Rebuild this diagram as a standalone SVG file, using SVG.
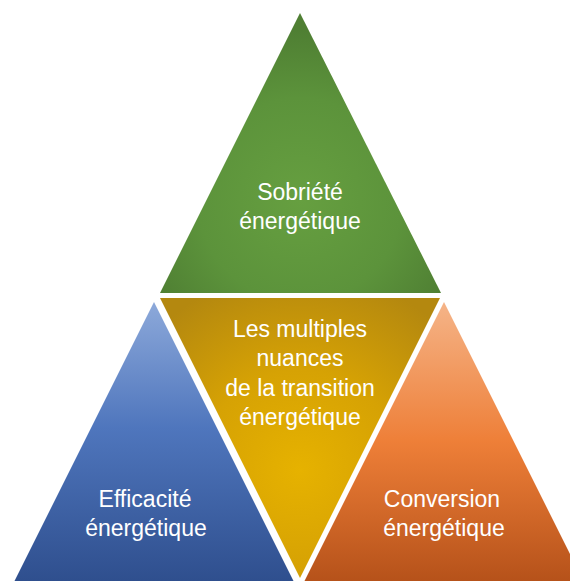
<svg xmlns="http://www.w3.org/2000/svg" width="570" height="581" viewBox="0 0 570 581">
  <style>
    .lbl { font-family: "Liberation Sans", Arial, sans-serif; font-size: 23px; fill: #ffffff; text-anchor: middle; }
  </style>
  <defs>
    <radialGradient id="gGreen" gradientUnits="userSpaceOnUse" cx="300" cy="200" r="170">
      <stop offset="0" stop-color="#669f40"/>
      <stop offset="0.6" stop-color="#5c933b"/>
      <stop offset="1" stop-color="#4f7f33"/>
    </radialGradient>
    <radialGradient id="gYellow" gradientUnits="userSpaceOnUse" cx="300" cy="470" r="200">
      <stop offset="0" stop-color="#e6b200"/>
      <stop offset="0.5" stop-color="#d6a204"/>
      <stop offset="1" stop-color="#b4880f"/>
    </radialGradient>
    <linearGradient id="gBlue" gradientUnits="userSpaceOnUse" x1="0" y1="302" x2="0" y2="581">
      <stop offset="0" stop-color="#8da9da"/>
      <stop offset="0.45" stop-color="#4f76bd"/>
      <stop offset="1" stop-color="#2f4f8e"/>
    </linearGradient>
    <linearGradient id="gOrange" gradientUnits="userSpaceOnUse" x1="0" y1="302" x2="0" y2="581">
      <stop offset="0" stop-color="#f5b488"/>
      <stop offset="0.5" stop-color="#ee7f38"/>
      <stop offset="1" stop-color="#b6521a"/>
    </linearGradient>
  </defs>
  <rect width="570" height="581" fill="#ffffff"/>
  <g id="connectors"></g>
  <g id="sobriete">
    <polygon points="300,13 441,293 160,293" fill="url(#gGreen)"/>
    <text class="lbl" x="300" y="200">Sobriété</text>
    <text class="lbl" x="300" y="229">énergétique</text>
  </g>
  <g id="transition">
    <polygon points="160,298 440,298 300,578" fill="url(#gYellow)"/>
    <text class="lbl" x="300" y="337">Les multiples</text>
    <text class="lbl" x="300" y="366">nuances</text>
    <text class="lbl" x="300" y="396">de la transition</text>
    <text class="lbl" x="300" y="425">énergétique</text>
  </g>
  <g id="efficacite">
    <polygon points="154,302 294,582 14,582" fill="url(#gBlue)"/>
    <text class="lbl" x="145" y="507">Efficacité</text>
    <text class="lbl" x="146" y="536">énergétique</text>
  </g>
  <g id="conversion">
    <polygon points="444,302 584,582 304,582" fill="url(#gOrange)"/>
    <text class="lbl" x="442" y="507">Conversion</text>
    <text class="lbl" x="444" y="536">énergétique</text>
  </g>
</svg>
